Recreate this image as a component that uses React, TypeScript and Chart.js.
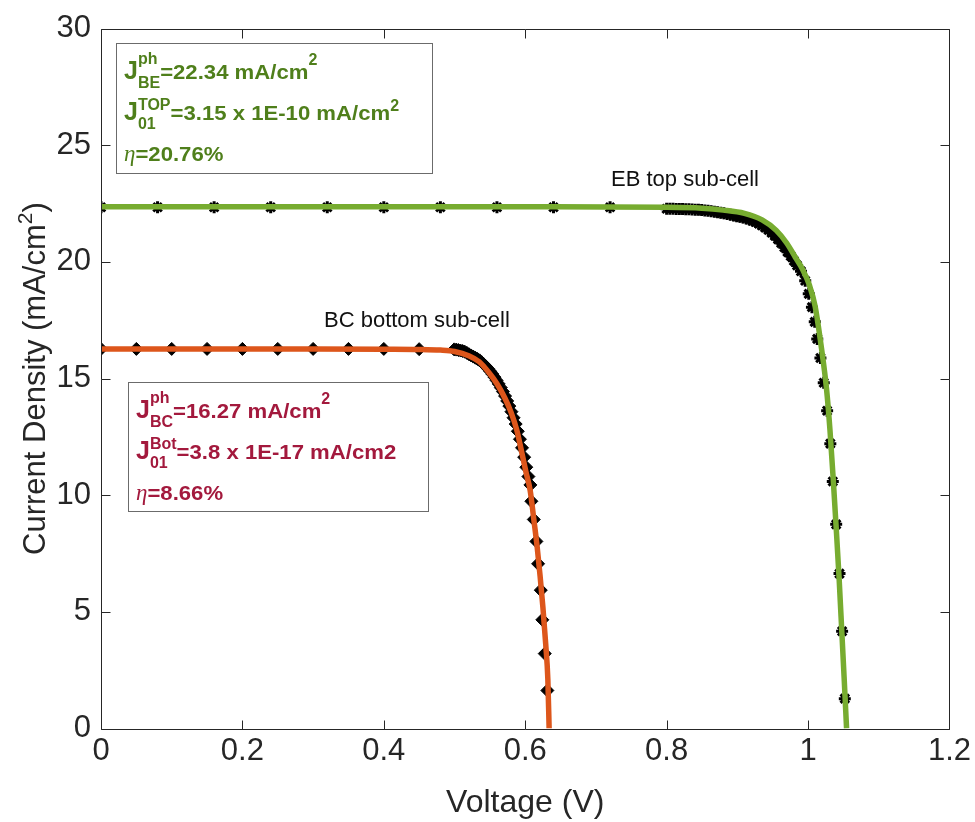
import React, { useEffect, useRef } from "react";
import { Chart, registerables } from "chart.js";

Chart.register(...registerables);

// ---------- data ----------
const xTicks = [0, 0.2, 0.4, 0.6, 0.8, 1, 1.2];
const yTicks = [0, 5, 10, 15, 20, 25, 30];

// BC bottom sub-cell, measured points (V, mA/cm2)
const bcMeasV = [
  0, 0.05, 0.1, 0.15, 0.2, 0.25, 0.3, 0.35, 0.4, 0.45,
  0.4995, 0.5025, 0.5055, 0.5085, 0.5115, 0.5145, 0.5175, 0.5205, 0.5235, 0.5265,
  0.5295, 0.5325, 0.5355, 0.5385, 0.5415, 0.5445, 0.5475, 0.5505, 0.5535, 0.5565,
  0.5595, 0.5625, 0.5655, 0.5685, 0.5715, 0.5745, 0.5775, 0.5805, 0.5835, 0.5865,
  0.5895, 0.5925, 0.5955, 0.5985, 0.6015, 0.6045,
  0.6073, 0.6087, 0.6121, 0.6158, 0.6182, 0.622, 0.6242, 0.6276, 0.6313,
];
const bcMeasJ = [
  16.27, 16.27, 16.27, 16.27, 16.27, 16.27, 16.27, 16.27, 16.27, 16.26,
  16.25, 16.24, 16.22, 16.2, 16.18, 16.15, 16.1, 16.04, 15.99, 15.94,
  15.89, 15.84, 15.78, 15.7, 15.61, 15.52, 15.42, 15.31, 15.19, 15.06,
  14.92, 14.77, 14.61, 14.44, 14.25, 14.04, 13.82, 13.58, 13.32, 13.05,
  12.74, 12.4, 12.03, 11.63, 11.2, 10.8,
  10.44, 9.74, 8.96, 8.02, 7.06, 5.93, 4.66, 3.21, 1.63,
];
// BC bottom sub-cell, fitted curve
const bcFitV = [0, 0.1, 0.2, 0.3, 0.4, 0.45, 0.48, 0.5, 0.52, 0.535, 0.548, 0.56, 0.571, 0.58, 0.588, 0.595, 0.601, 0.607, 0.612, 0.617, 0.621, 0.625, 0.629, 0.632, 0.6338];
const bcFitJ = [16.27, 16.27, 16.27, 16.27, 16.26, 16.25, 16.22, 16.16, 15.98, 15.72, 15.28, 14.78, 14.18, 13.55, 12.8, 11.85, 11.0, 10.2, 9.0, 7.75, 6.55, 5.2, 3.6, 2.1, 0];

// EB top sub-cell, measured points
const ebMeasV = [
  0, 0.08, 0.16, 0.24, 0.32, 0.4, 0.48, 0.56, 0.64, 0.72,
  0.8, 0.8045, 0.809, 0.8135, 0.818, 0.8225, 0.827, 0.8315, 0.836, 0.8405,
  0.845, 0.8495, 0.854, 0.8585, 0.863, 0.8675, 0.872, 0.8765, 0.881, 0.8855,
  0.89, 0.8945, 0.899, 0.9035, 0.908, 0.9125, 0.917, 0.9215, 0.926, 0.9305,
  0.935, 0.9395, 0.944, 0.9485, 0.953, 0.9575, 0.962, 0.9665, 0.971, 0.9755,
  0.98, 0.9845,
  0.99, 0.996, 1.001, 1.0055, 1.0095, 1.013, 1.0175, 1.0222, 1.027, 1.0315,
  1.035, 1.0398, 1.0445, 1.0482, 1.052,
];
const ebMeasJ = [
  22.34, 22.34, 22.34, 22.34, 22.34, 22.34, 22.34, 22.34, 22.34, 22.34,
  22.28, 22.28, 22.28, 22.27, 22.27, 22.27, 22.26, 22.26, 22.25, 22.24,
  22.23, 22.22, 22.2, 22.19, 22.17, 22.15, 22.13, 22.11, 22.08, 22.05,
  22.02, 21.99, 21.96, 21.93, 21.9, 21.86, 21.82, 21.77, 21.71, 21.64,
  21.56, 21.47, 21.37, 21.25, 21.12, 20.97, 20.81, 20.63, 20.43, 20.25,
  20.05, 19.85,
  19.6, 19.19, 18.63, 18.06, 17.43, 16.7, 15.88, 14.82, 13.62, 12.21,
  10.59, 8.75, 6.64, 4.17, 1.28,
];
// EB top sub-cell, fitted curve
const ebFitV = [0, 0.2, 0.4, 0.6, 0.8, 0.85, 0.88, 0.91, 0.935, 0.955, 0.97, 0.982, 0.992, 1.002, 1.01, 1.019, 1.026, 1.031, 1.036, 1.04, 1.044, 1.048, 1.051, 1.0545];
const ebFitJ = [22.36, 22.36, 22.36, 22.36, 22.34, 22.3, 22.22, 22.08, 21.8, 21.35, 20.8, 20.2, 19.7, 19.0, 18.1, 16.3, 14.6, 12.8, 10.5, 8.5, 6.4, 4.0, 2.2, 0];

const pts = (xs: number[], ys: number[]) => xs.map((x, i) => ({ x, y: ys[i] }));

// ---------- styling ----------
const SANS = "'Liberation Sans', Arial, Helvetica, sans-serif";
const SERIF = "'Liberation Serif', 'Times New Roman', serif";
const AXIS = "#262626";
const ORANGE = "#DD561B";
const GREEN = "#77AC30";
const TXT_GREEN = "#4F7F1B";
const TXT_RED = "#A3193D";

type Item = { t: string; f: string; dy?: number; sx?: number };

function drawRun(ctx: CanvasRenderingContext2D, x: number, y: number, color: string, parts: Item[][]) {
  ctx.fillStyle = color;
  ctx.textAlign = "left";
  ctx.textBaseline = "alphabetic";
  let cx = x;
  for (const stack of parts) {
    let w = 0;
    for (const s of stack) {
      ctx.font = s.f;
      const sx = s.sx ?? 1;
      ctx.save();
      ctx.translate(cx, y + (s.dy ?? 0));
      ctx.scale(sx, 1);
      ctx.fillText(s.t, 0, 0);
      ctx.restore();
      w = Math.max(w, ctx.measureText(s.t).width * sx);
    }
    cx += w;
  }
  return cx - x;
}

const FJ = `bold 25px ${SANS}`;
const FM = `bold 20.5px ${SANS}`;
const FS = `bold 16px ${SANS}`;
const FE = `italic 23px ${SERIF}`;
const SXM = 1.08;

function drawInfoBox(
  ctx: CanvasRenderingContext2D,
  bx: number, by: number, bw: number, bh: number,
  color: string,
  l1: [string, string, string, boolean],
  l2: [string, string, string, boolean],
  eta: string
) {
  ctx.save();
  ctx.fillStyle = "#ffffff";
  ctx.fillRect(bx, by, bw, bh);
  ctx.strokeStyle = "#6b6b6b";
  ctx.lineWidth = 1;
  ctx.strokeRect(bx + 0.5, by + 0.5, bw, bh);
  const tx = bx + 8;
  const b1 = by + 36;
  const b2 = by + 77;
  const b3 = by + 118;
  const lines: [[string, string, string, boolean], number, number][] = [
    [l1, b1, -15],
    [l2, b2, -10],
  ];
  for (const [[sup, sub, main, sq], base, supDy] of lines) {
    const parts: Item[][] = [
      [{ t: "J", f: FJ }],
      [{ t: sup, f: FS, dy: supDy }, { t: sub, f: FS, dy: 9 }],
      [{ t: main, f: FM, sx: SXM }],
    ];
    if (sq) parts.push([{ t: "2", f: FS, dy: supDy + 1 }]);
    drawRun(ctx, tx, base, color, parts);
  }
  drawRun(ctx, tx, b3, color, [[{ t: "\u03B7", f: FE }], [{ t: eta, f: FM, sx: SXM }]]);
  ctx.restore();
}

const overlay = {
  id: "overlay",
  afterDraw(chart: any) {
    const ctx: CanvasRenderingContext2D = chart.ctx;
    const a = chart.chartArea;
    const xs = chart.scales.x;
    const ys = chart.scales.y;
    ctx.save();
    // axes box
    ctx.strokeStyle = AXIS;
    ctx.lineWidth = 1;
    const L = Math.round(a.left) + 0.5;
    const R = Math.round(a.right) + 0.5;
    const T = Math.round(a.top) + 0.5;
    const B = Math.round(a.bottom) + 0.5;
    ctx.beginPath();
    ctx.rect(L, T, R - L, B - T);
    const tl = 9;
    for (const v of xTicks) {
      const p = Math.round(xs.getPixelForValue(v)) + 0.5;
      ctx.moveTo(p, B); ctx.lineTo(p, B - tl);
      ctx.moveTo(p, T); ctx.lineTo(p, T + tl);
    }
    for (const v of yTicks) {
      const p = Math.round(ys.getPixelForValue(v)) + 0.5;
      ctx.moveTo(L, p); ctx.lineTo(L + tl, p);
      ctx.moveTo(R, p); ctx.lineTo(R - tl, p);
    }
    ctx.stroke();

    // axis titles
    ctx.fillStyle = AXIS;
    ctx.textAlign = "center";
    ctx.textBaseline = "alphabetic";
    ctx.font = `32px ${SANS}`;
    ctx.fillText("Voltage (V)", (a.left + a.right) / 2, 812);

    ctx.save();
    ctx.translate(34, (a.top + a.bottom) / 2);
    ctx.rotate(-Math.PI / 2);
    const FT = `31px ${SANS}`;
    const FT2 = `21px ${SANS}`;
    ctx.font = FT;
    const w1 = ctx.measureText("Current Density (mA/cm").width;
    const w3 = ctx.measureText(")").width;
    ctx.font = FT2;
    const w2 = ctx.measureText("2").width;
    const total = w1 + w2 + w3;
    drawRun(ctx, -total / 2, 11, AXIS, [
      [{ t: "Current Density (mA/cm", f: FT }],
      [{ t: "2", f: FT2, dy: -13 }],
      [{ t: ")", f: FT }],
    ]);
    ctx.restore();

    // curve labels
    ctx.textAlign = "left";
    ctx.fillStyle = "#111111";
    ctx.font = `22px ${SANS}`;
    ctx.fillText("EB top sub-cell", 611, 186);
    ctx.fillText("BC bottom sub-cell", 324, 327);

    // info boxes
    drawInfoBox(ctx, 116, 43, 316, 130, TXT_GREEN,
      ["ph", "BE", "=22.34 mA/cm", true],
      ["TOP", "01", "=3.15 x 1E-10 mA/cm", true],
      "=20.76%");
    drawInfoBox(ctx, 128, 382, 300, 129, TXT_RED,
      ["ph", "BC", "=16.27 mA/cm", true],
      ["Bot", "01", "=3.8 x 1E-17 mA/cm2", false],
      "=8.66%");
    ctx.restore();
  },
};

export default function App() {
  const ref = useRef<HTMLCanvasElement | null>(null);
  useEffect(() => {
    if (!ref.current) return;
    Chart.defaults.font.family = SANS;
    const fmt = (v: any) => {
      const n = Number(v);
      return Number(n.toFixed(1)).toString();
    };
    const chart = new Chart(ref.current, {
      type: "scatter",
      data: {
        datasets: [
          {
            type: "line",
            label: "BC fit",
            data: pts(bcFitV, bcFitJ),
            borderColor: ORANGE,
            borderWidth: 5.5,
            pointRadius: 0,
            cubicInterpolationMode: "monotone",
            fill: false,
            order: 0,
          } as any,
          {
            type: "line",
            label: "EB fit",
            data: pts(ebFitV, ebFitJ),
            borderColor: GREEN,
            borderWidth: 5.5,
            pointRadius: 0,
            cubicInterpolationMode: "monotone",
            fill: false,
            order: 0,
          } as any,
          {
            label: "BC measured",
            data: pts(bcMeasV, bcMeasJ),
            pointStyle: "rectRot",
            pointRadius: 6.5,
            backgroundColor: "#000000",
            borderColor: "#000000",
            borderWidth: 1,
            order: 1,
          },
          {
            label: "EB measured",
            data: pts(ebMeasV, ebMeasJ),
            pointStyle: "star",
            pointRadius: 6,
            backgroundColor: "#000000",
            borderColor: "#000000",
            borderWidth: 3,
            order: 1,
          },
        ],
      },
      options: {
        responsive: false,
        devicePixelRatio: 1,
        animation: false,
        events: [],
        layout: { padding: { top: 19.5, right: 22, left: 0, bottom: 0 } },
        plugins: { legend: { display: false }, tooltip: { enabled: false } },
        scales: {
          x: {
            type: "linear",
            min: 0,
            max: 1.2,
            grid: { display: false, drawTicks: false },
            border: { display: false },
            afterBuildTicks: (s: any) => { s.ticks = xTicks.map((v) => ({ value: v })); },
            afterFit: (s: any) => { s.height = 822 - 728.5; },
            ticks: {
              autoSkip: false,
              maxRotation: 0,
              padding: 4,
              color: AXIS,
              font: { size: 31, family: SANS },
              callback: fmt,
            },
          },
          y: {
            type: "linear",
            min: 0,
            max: 30,
            grid: { display: false, drawTicks: false },
            border: { display: false },
            afterBuildTicks: (s: any) => { s.ticks = yTicks.map((v) => ({ value: v })); },
            afterFit: (s: any) => { s.width = 101; },
            ticks: {
              autoSkip: false,
              padding: 10,
              color: AXIS,
              font: { size: 31, family: SANS },
              callback: fmt,
            },
          },
        },
      } as any,
      plugins: [overlay],
    });
    return () => chart.destroy();
  }, []);
  return (
    <div style={{ position: "absolute", left: 0, top: 0, width: 975, height: 822, background: "#ffffff" }}>
      <canvas ref={ref} width={975} height={822} style={{ width: 975, height: 822, display: "block" }} />
    </div>
  );
}
